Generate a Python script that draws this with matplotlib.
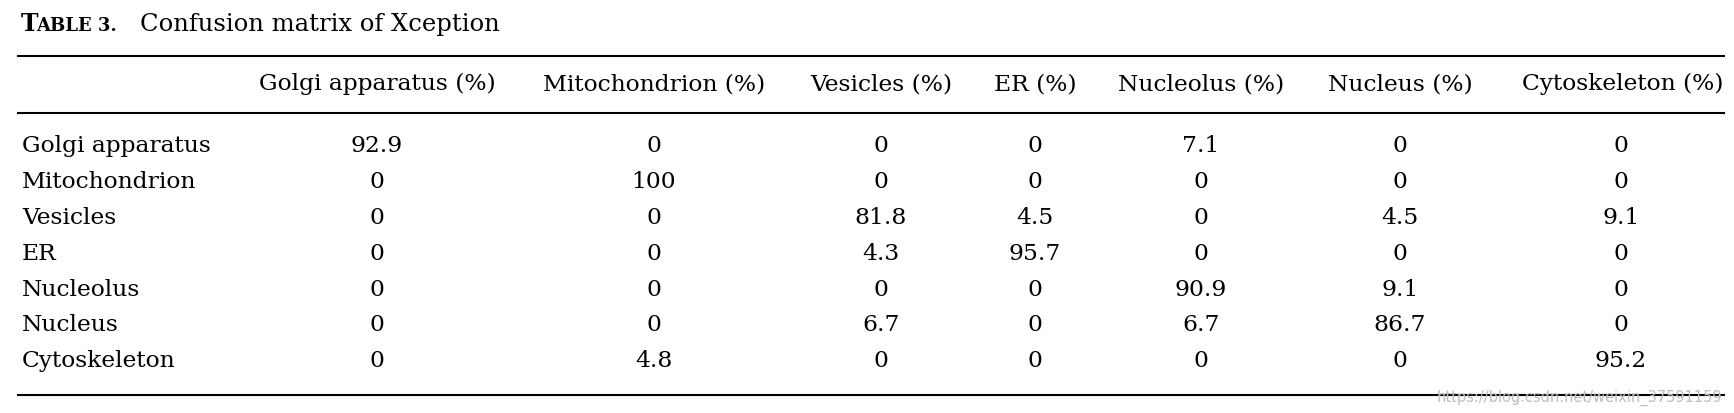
import matplotlib
matplotlib.use("Agg")
from matplotlib import pyplot as plt

rows = ["Golgi apparatus", "Mitochondrion", "Vesicles", "ER", "Nucleolus", "Nucleus", "Cytoskeleton"]
cols = ["Golgi apparatus (%)", "Mitochondrion (%)", "Vesicles (%)", "ER (%)",
        "Nucleolus (%)", "Nucleus (%)", "Cytoskeleton (%)"]
values = [
    ["92.9", "0", "0", "0", "7.1", "0", "0"],
    ["0", "100", "0", "0", "0", "0", "0"],
    ["0", "0", "81.8", "4.5", "0", "4.5", "9.1"],
    ["0", "0", "4.3", "95.7", "0", "0", "0"],
    ["0", "0", "0", "0", "90.9", "9.1", "0"],
    ["0", "0", "6.7", "0", "6.7", "86.7", "0"],
    ["0", "4.8", "0", "0", "0", "0", "95.2"],
]

W, H = 1734, 414
fig = plt.figure(figsize=(W / 100, H / 100), dpi=100)
ax = fig.add_axes([0, 0, 1, 1])
ax.set_xlim(0, W)
ax.set_ylim(H, 0)
ax.axis("off")

font = "DejaVu Serif"
fs = 16.8

# title (small caps imitation)
ax.text(21, 31, "T", fontsize=17, fontweight="bold", family=font, va="baseline")
ax.text(36, 31, "ABLE 3.", fontsize=13, fontweight="bold", family=font, va="baseline")
ax.text(140, 31, "Confusion matrix of Xception", fontsize=17.5, family=font, va="baseline")

# rules
x0, x1 = 18, 1724
for y in [57, 114, 396]:
    ax.plot([x0, x1], [y, y], color="black", lw=1.5)

col_x = [377, 654, 881, 1035, 1201, 1400, 1621]
row_y = [152, 188, 224, 260, 296, 331, 367]

for j, c in enumerate(cols):
    if j == len(cols) - 1:
        ax.text(x1, 90, c, fontsize=fs, family=font, ha="right", va="baseline")
    else:
        ax.text(col_x[j], 90, c, fontsize=fs, family=font, ha="center", va="baseline")

for i, r in enumerate(rows):
    ax.text(22, row_y[i], r, fontsize=fs, family=font, ha="left", va="baseline")
    for j, v in enumerate(values[i]):
        ax.text(col_x[j], row_y[i], v, fontsize=fs, family=font, ha="center", va="baseline")

ax.text(1722, 398, "https://blog.csdn.net/weixin_37591159", fontsize=10.5, color="#bdbdbd",
        family="DejaVu Sans", ha="right", va="center")

fig.savefig("out.png", dpi=100)
